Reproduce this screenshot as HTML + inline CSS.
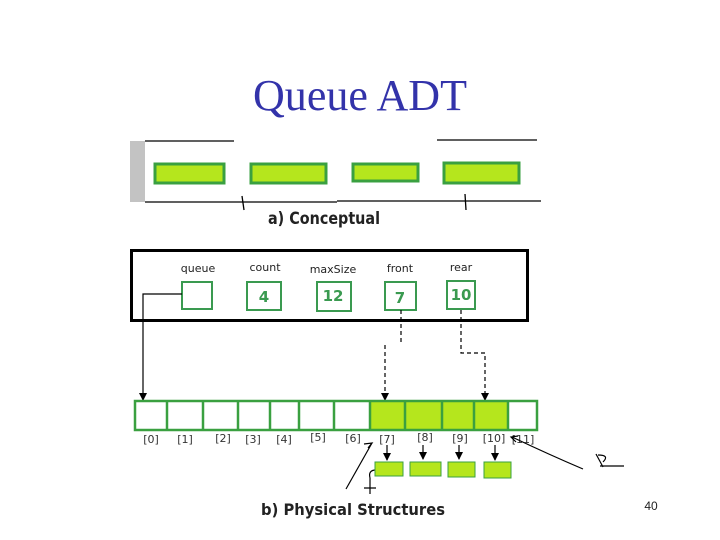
<!DOCTYPE html>
<html><head><style>
html,body{margin:0;padding:0;background:#fff;}
svg{display:block;}
.c{font-family:"Comic Sans MS","DejaVu Sans","Liberation Sans",sans-serif;}
</style></head><body>
<svg width="720" height="540" viewBox="0 0 720 540" xmlns="http://www.w3.org/2000/svg">
<defs>
<marker id="d" markerWidth="8" markerHeight="8" refX="4" refY="7" orient="0" markerUnits="userSpaceOnUse"><path d="M0,0 L8,0 L4,8 z" fill="#000"/></marker></defs>
<text x="360" y="110" text-anchor="middle" font-family="Liberation Serif,serif" font-size="44" fill="#3333aa" textLength="214" lengthAdjust="spacingAndGlyphs">Queue ADT</text>
<!-- conceptual -->
<rect x="130" y="141" width="15" height="61" fill="#c3c3c3"/>
<g stroke="#000" stroke-width="1.3" fill="none">
<line x1="145" y1="141" x2="234" y2="141"/><line x1="437" y1="140" x2="537" y2="140"/>
<line x1="145" y1="202" x2="337" y2="202"/><line x1="337" y1="201" x2="541" y2="201"/>
<path d="M242 196 L244 210"/><path d="M465 194 L466 210"/>
</g>
<g fill="#b5e61d" stroke="#3aa040" stroke-width="3">
<rect x="155" y="164" width="69" height="19"/><rect x="251" y="164" width="75" height="19"/>
<rect x="353" y="164" width="65" height="17"/><rect x="444" y="163" width="75" height="20"/>
</g>
<text x="268" y="224" class="c" font-size="17" font-weight="bold" fill="#222" textLength="112" lengthAdjust="spacingAndGlyphs">a) Conceptual</text>
<!-- header box -->
<rect x="131.5" y="250.5" width="396" height="70" fill="none" stroke="#000" stroke-width="3"/>
<g class="c" font-size="11" fill="#222" text-anchor="middle">
<text x="198" y="272">queue</text><text x="265" y="271">count</text><text x="333" y="273">maxSize</text>
<text x="400" y="272">front</text><text x="461" y="271">rear</text></g>
<g fill="none" stroke="#3a9a50" stroke-width="2">
<rect x="182" y="282" width="30" height="27"/><rect x="247" y="282" width="34" height="28"/>
<rect x="317" y="282" width="34" height="29"/><rect x="385" y="282" width="31" height="28"/>
<rect x="447" y="281" width="28" height="28"/></g>
<g class="c" font-size="15" font-weight="bold" fill="#3a9a50" text-anchor="middle">
<text x="264" y="302">4</text><text x="333" y="301">12</text><text x="400" y="303">7</text><text x="461" y="300">10</text></g>
<!-- pointers -->
<path d="M182 294 H143 V400" fill="none" stroke="#000" stroke-width="1.2" marker-end="url(#d)"/>
<path d="M401 310 V345" fill="none" stroke="#000" stroke-width="1.2" stroke-dasharray="4,3"/>
<path d="M385 345 V400" fill="none" stroke="#000" stroke-width="1.2" stroke-dasharray="4,3" marker-end="url(#d)"/>
<path d="M461 310 V353 H485 V400" fill="none" stroke="#000" stroke-width="1.2" stroke-dasharray="4,3" marker-end="url(#d)"/>
<!-- array -->
<rect x="370" y="401" width="138" height="29" fill="#b5e61d"/>
<rect x="135" y="401" width="402" height="29" fill="none" stroke="#3aa040" stroke-width="2.5"/>
<g stroke="#3aa040" stroke-width="2.5">
<line x1="167" y1="401" x2="167" y2="430"/><line x1="203" y1="401" x2="203" y2="430"/>
<line x1="238" y1="401" x2="238" y2="430"/><line x1="270" y1="401" x2="270" y2="430"/>
<line x1="299" y1="401" x2="299" y2="430"/><line x1="334" y1="401" x2="334" y2="430"/>
<line x1="370" y1="401" x2="370" y2="430"/><line x1="405" y1="401" x2="405" y2="430"/>
<line x1="442" y1="401" x2="442" y2="430"/><line x1="474" y1="401" x2="474" y2="430"/>
<line x1="508" y1="401" x2="508" y2="430"/></g>
<g class="c" font-size="11" fill="#333" text-anchor="middle">
<text x="151" y="443">[0]</text><text x="185" y="443">[1]</text><text x="223" y="442">[2]</text>
<text x="253" y="443">[3]</text><text x="284" y="443">[4]</text><text x="318" y="441">[5]</text>
<text x="353" y="442">[6]</text><text x="387" y="443">[7]</text><text x="425" y="441">[8]</text>
<text x="460" y="442">[9]</text><text x="494" y="442">[10]</text><text x="523" y="443">[11]</text></g>
<g stroke="#000" stroke-width="1.2" fill="none">
<line x1="387" y1="445" x2="387" y2="460" marker-end="url(#d)"/>
<line x1="423" y1="445" x2="423" y2="459" marker-end="url(#d)"/>
<line x1="459" y1="445" x2="459" y2="459" marker-end="url(#d)"/>
<line x1="495" y1="445" x2="495" y2="460" marker-end="url(#d)"/>
<path d="M346 489 L372 443"/><path d="M364 444 L372 443 L368 448"/>
<path d="M583 469 Q550 455 512 437"/><path d="M518 436 L511 437 L516 442"/>
<path d="M376 470 Q368 470 370 478 M370 478 V494 M364 488 H376"/>
<path d="M596 454 L603 467 M598 455 Q610 455 603 462 M600 466 H624"/>
</g>
<g fill="#b5e61d" stroke="#3aa040" stroke-width="1">
<rect x="375" y="462" width="28" height="14"/><rect x="410" y="462" width="31" height="14"/>
<rect x="448" y="462" width="27" height="15"/><rect x="484" y="462" width="27" height="16"/></g>
<text x="261" y="515" class="c" font-size="16" font-weight="bold" fill="#222" textLength="184" lengthAdjust="spacingAndGlyphs">b) Physical Structures</text>
<text x="651" y="510" text-anchor="middle" font-family="Liberation Sans,sans-serif" font-size="12" fill="#222">40</text>
</svg>
</body></html>
